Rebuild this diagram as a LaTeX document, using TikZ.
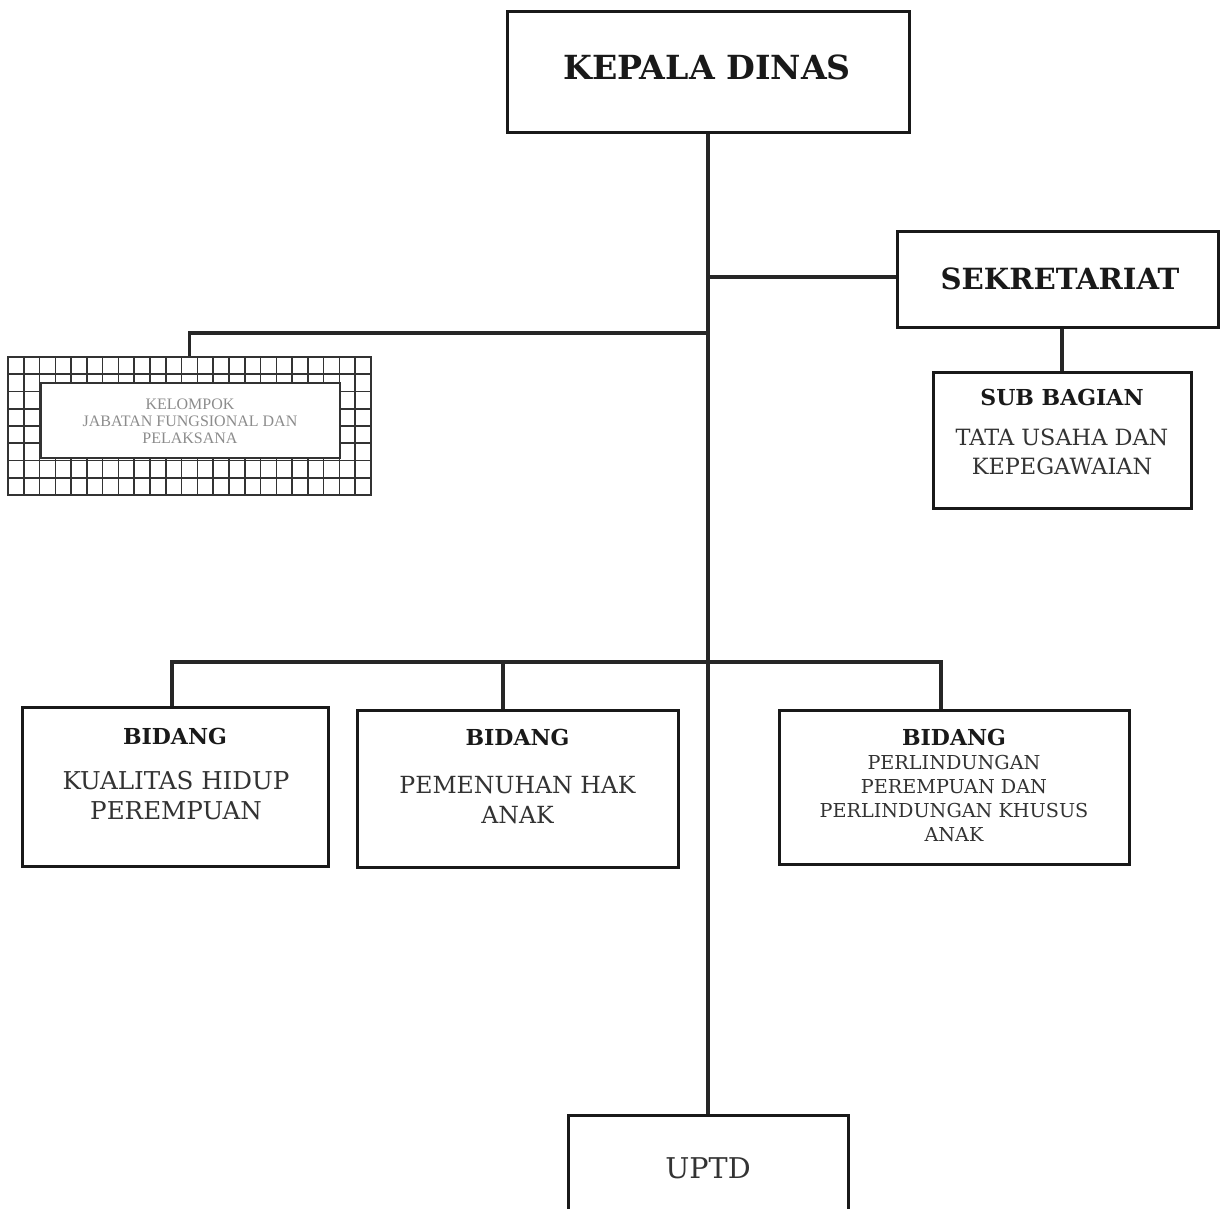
\documentclass[tikz,border=0pt]{standalone}
\usepackage{fontspec}
\setmainfont{DejaVu Serif}
\newfontfamily\timesf{Liberation Serif}
\begin{document}
\begin{tikzpicture}[x=0.5pt,y=-0.5pt,
  box/.style={draw=black!90,line width=1.5pt,fill=none,rectangle,inner sep=0pt},
  conn/.style={draw=black!85,line width=1.9pt},
  gl/.style={draw=black!80,line width=0.8pt},
  hb/.style={font=\bfseries\fontsize{11}{13}\selectfont,text=black!90,inner sep=0pt},
  bodytxt/.style={align=center,text=black!80,inner sep=0pt},
]
\useasboundingbox (0,0) rectangle (1220,1209);
\fill[white] (0,0) rectangle (1220,1209);

% Kepala Dinas
\node[box,minimum width=201pt,minimum height=60.5pt] (kd) at (708,72.5) {};
\node[inner sep=0pt,text=black!90,font=\bfseries\fontsize{16.6}{18}\selectfont] (kdt) at (707,67) {KEPALA DINAS};

% Sekretariat
\node[box,minimum width=160.5pt,minimum height=47.5pt] (sek) at (1057.5,279.5) {};
\node[inner sep=0pt,text=black!90,font=\bfseries\fontsize{14.6}{16}\selectfont] (sekt) at (1060,279) {SEKRETARIAT};

% Sub bagian
\node[box,minimum width=129pt,minimum height=68pt] (sub) at (1062,440) {};
\node[hb] (subh) at (1062,397) {SUB BAGIAN};
\node[bodytxt,font=\fontsize{11.2}{14.5}\selectfont] (subt) at (1062,451.5) {TATA USAHA DAN\\KEPEGAWAIAN};

% Kelompok jabatan fungsional (grid)
\foreach \i in {0,...,23} \draw[gl] ({8+\i*15.783},357) -- ({8+\i*15.783},495);
\foreach \j in {0,...,8} \draw[gl] (8,{357+\j*17.25}) -- (371,{357+\j*17.25});
\node[draw=black!80,line width=0.9pt,rectangle,inner sep=0pt,minimum width=181.5pt,minimum height=69pt] (kjf) at (189.5,426) {};
\node[draw=black!80,line width=0.9pt,fill=white,rectangle,inner sep=0pt,minimum width=149.5pt,minimum height=37.5pt] (kjfin) at (190.5,420.5) {};
\node[align=center,inner sep=0pt,text=black!45,font=\timesf\fontsize{8}{8.5}\selectfont] (kjft) at (190,421) {KELOMPOK\\JABATAN FUNGSIONAL DAN\\PELAKSANA};

% Bidang boxes
\node[box,minimum width=153pt,minimum height=79.5pt] (b1) at (175,786.5) {};
\node[hb] (b1h) at (175,736) {BIDANG};
\node[bodytxt,font=\fontsize{12.3}{15}\selectfont] (b1t) at (176,796) {KUALITAS HIDUP\\PEREMPUAN};

\node[box,minimum width=160.5pt,minimum height=78.5pt] (b2) at (517.5,788.5) {};
\node[hb] (b2h) at (517.5,737) {BIDANG};
\node[bodytxt,font=\fontsize{11.8}{15}\selectfont] (b2t) at (517.5,800) {PEMENUHAN HAK\\ANAK};

\node[box,minimum width=175pt,minimum height=77pt] (b3) at (954,787) {};
\node[hb] (b3h) at (954,737) {BIDANG};
\node[bodytxt,font=\fontsize{9.6}{12}\selectfont] (b3t) at (954,799) {PERLINDUNGAN\\PEREMPUAN DAN\\PERLINDUNGAN KHUSUS\\ANAK};

% UPTD
\node[box,minimum width=140pt,minimum height=57pt] (uptd) at (708,1172) {};
\node[inner sep=0pt,text=black!80,font=\fontsize{14.3}{16}\selectfont] (uptdt) at (708,1168) {UPTD};

% connectors
\coordinate (j1) at (708,333);
\coordinate (bus) at (708,662);
\draw[conn] (kd.south) -- (uptd.north);
\draw[conn] ([yshift=1.2pt]sek.west) -- ([yshift=1.2pt]sek.west -| kd.south);
\draw[conn] (sub.north) -- (sub.north |- sek.south);
\draw[conn] (kjf.north) |- (j1);
\draw[conn] ([xshift=-1.5pt]b1.north) |- (bus);
\draw[conn] ([xshift=-7.25pt]b2.north) |- (bus);
\draw[conn] ([xshift=-6.5pt]b3.north) |- (bus);
\end{tikzpicture}
\end{document}
